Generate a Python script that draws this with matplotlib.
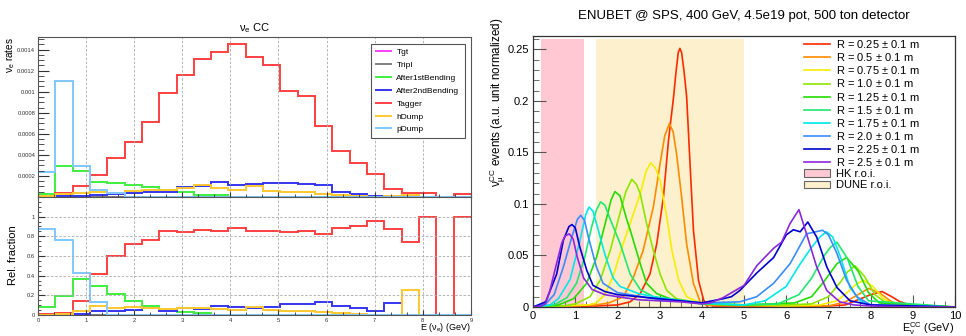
import numpy as np
import matplotlib
matplotlib.use('Agg')
import matplotlib.pyplot as plt
from matplotlib.patches import Patch
from matplotlib.ticker import MultipleLocator, AutoMinorLocator

plt.rcParams['font.family'] = ['Liberation Sans', 'DejaVu Sans']
plt.rcParams['mathtext.fontset'] = 'custom'
plt.rcParams['mathtext.rm'] = 'Liberation Sans'
plt.rcParams['mathtext.it'] = 'Liberation Sans'
plt.rcParams['mathtext.default'] = 'regular'

# ---- left panel: nu_e CC histograms, 25 bins on 0-9 GeV ----
n_bins = 25
e_range = (0, 9)
sources = ['Tgt', 'Tripl', 'After1stBending', 'After2ndBending', 'Tagger', 'hDump', 'pDump']
src_colors = ['#ff40ff', '#808080', '#40ee40', '#3535f0', '#ff4040', '#ffc830', '#80c8ff']

rate_tgt = [0.0] * 25
rate_tripl = [0.0] * 25
rate_after1 = [0.00003, 0.00029, 0.00025, 0.000146, 0.000133, 0.00011, 0.000092, 0.00007, 0.000045,
               0.000015, 0.000015, 0.0, 0.0, 0.0, 0.0, 0.0, 0.0, 0.0, 0.0, 0.0, 0.0, 0.0, 0.0, 0.0, 0.0]
rate_after2 = [0.0, 0.00001, 0.00001, 0.00002, 0.00003, 0.00004, 0.00005, 0.00005, 0.000092, 0.0001,
               0.000146, 0.000117, 0.00012, 0.000133, 0.000133, 0.000124, 0.000114, 0.00005, 0.00003,
               0.000012, 0.00001, 0.00001, 0.0, 0.0, 0.0]
rate_tagger = [0.0, 0.000034, 0.0001, 0.00021, 0.00037, 0.00052, 0.00071, 0.00099, 0.00116, 0.00131,
               0.00138, 0.00145, 0.00133, 0.00125, 0.00101, 0.00096, 0.00067, 0.00044, 0.00032, 0.00022,
               0.00008, 0.00004, 0.00004, 0.0, 0.00003]
rate_hdump = [0.00001, 0.00003, 0.00004, 0.000045, 0.00004, 0.00006, 0.00007, 0.00007, 0.00009, 0.00011,
              0.00009, 0.00007, 0.0001, 0.00006, 0.00005, 0.000045, 0.00003, 0.00002, 0.000006, 0.000003,
              0.00001, 0.00002, 0.0, 0.0, 0.0]
rate_pdump = [0.00024, 0.0011, 0.00029, 0.00007, 0.00004, 0.0, 0.0, 0.0, 0.0, 0.0, 0.0, 0.0, 0.0, 0.0,
              0.0, 0.0, 0.0, 0.0, 0.0, 0.0, 0.0, 0.0, 0.0, 0.0, 0.0]

frac_tgt = [0.0] * 25
frac_tripl = [0.0] * 25
frac_after1 = [0.085, 0.19, 0.37, 0.29, 0.21, 0.14, 0.09, 0.06, 0.035, 0.02, 0.0, 0.0, 0.0, 0.0, 0.0,
               0.0, 0.0, 0.0, 0.0, 0.0, 0.0, 0.0, 0.0, 0.0, 0.0]
frac_after2 = [0.0, 0.005, 0.01, 0.04, 0.04, 0.05, 0.07, 0.04, 0.07, 0.06, 0.09, 0.08, 0.07, 0.085,
               0.11, 0.11, 0.135, 0.09, 0.075, 0.04, 0.12, 0.0, 0.0, 0.0, 0.0]
frac_tagger = [0.01, 0.02, 0.14, 0.42, 0.60, 0.72, 0.76, 0.85, 0.84, 0.86, 0.855, 0.88, 0.85, 0.85,
               0.84, 0.85, 0.82, 0.88, 0.90, 0.96, 0.87, 0.74, 1.0, 0.0, 1.0]
frac_hdump = [0.0, 0.01, 0.04, 0.09, 0.07, 0.08, 0.07, 0.06, 0.07, 0.07, 0.06, 0.05, 0.08, 0.05, 0.04,
              0.04, 0.03, 0.02, 0.01, 0.0, 0.0, 0.25, 0.0, 0.0, 0.0]
frac_pdump = [0.87, 0.76, 0.43, 0.135, 0.0, 0.0, 0.0, 0.0, 0.0, 0.0, 0.0, 0.0, 0.0, 0.0, 0.0, 0.0, 0.0,
              0.0, 0.0, 0.0, 0.0, 0.0, 0.0, 0.0, 0.0]

rates = [rate_tgt, rate_tripl, rate_after1, rate_after2, rate_tagger, rate_hdump, rate_pdump]
fracs = [frac_tgt, frac_tripl, frac_after1, frac_after2, frac_tagger, frac_hdump, frac_pdump]

# ---- right panel: nu_mu CC spectra vs radius ----
radius_labels = ['R = 0.25 $\\pm$ 0.1 m', 'R = 0.5 $\\pm$ 0.1 m', 'R = 0.75 $\\pm$ 0.1 m',
                 'R = 1.0 $\\pm$ 0.1 m', 'R = 1.25 $\\pm$ 0.1 m', 'R = 1.5 $\\pm$ 0.1 m',
                 'R = 1.75 $\\pm$ 0.1 m', 'R = 2.0 $\\pm$ 0.1 m', 'R = 2.25 $\\pm$ 0.1 m',
                 'R = 2.5 $\\pm$ 0.1 m']
radius_colors = ['#ff2a00', '#ff8c00', '#f5ef00', '#8ce600', '#22dd00', '#20e870', '#00e8e8',
                 '#3a8cff', '#0000d0', '#8a28dd']

e_r025 = [0, 1.5, 2.0, 2.3, 2.54, 2.77, 2.93, 3.09, 3.21, 3.33, 3.38, 3.44, 3.48, 3.52, 3.58, 3.64,
          3.72, 3.8, 3.92, 4.04, 4.15, 4.3, 5.0, 6.0, 7.0, 7.4, 7.7, 8.0, 8.27, 8.5, 8.7, 9.0, 10]
v_r025 = [0, 0.001, 0.002, 0.005, 0.013, 0.032, 0.061, 0.107, 0.162, 0.204, 0.225, 0.247, 0.251, 0.247,
          0.228, 0.204, 0.139, 0.075, 0.026, 0.007, -0.001, 0.0, 0.0, 0.0005, 0.001, 0.002, 0.007, 0.012,
          0.015, 0.010, 0.005, 0.001, 0]
e_r050 = [0, 1.5, 1.8, 2.14, 2.38, 2.61, 2.85, 3.01, 3.12, 3.23, 3.32, 3.4, 3.52, 3.64, 3.8, 3.96, 4.1,
          5.0, 6.0, 7.0, 7.4, 7.7, 7.95, 8.2, 8.5, 8.8, 10]
v_r050 = [0, 0.002, 0.004, 0.010, 0.029, 0.055, 0.097, 0.139, 0.166, 0.178, 0.170, 0.149, 0.107, 0.061,
          0.023, 0.005, 0.002, 0.001, 0.001, 0.001, 0.005, 0.012, 0.018, 0.014, 0.005, 0.001, 0]
e_r075 = [0, 1.3, 1.5, 1.7, 1.9, 2.14, 2.3, 2.54, 2.68, 2.79, 2.9, 3.01, 3.17, 3.29, 3.45, 3.64, 3.96,
          5.0, 6.0, 6.8, 7.2, 7.5, 7.65, 7.83, 8.05, 8.3, 8.6, 10]
v_r075 = [0, 0.002, 0.004, 0.012, 0.030, 0.062, 0.081, 0.110, 0.132, 0.140, 0.135, 0.123, 0.087, 0.055,
          0.026, 0.010, 0.004, 0.002, 0.001, 0.002, 0.006, 0.016, 0.022, 0.026, 0.020, 0.008, 0.002, 0]
e_r100 = [0, 0.7, 1.0, 1.35, 1.59, 1.83, 2.06, 2.2, 2.34, 2.45, 2.54, 2.69, 2.85, 3.01, 3.17, 3.4, 3.8,
          4.1, 5.0, 6.0, 6.6, 7.0, 7.3, 7.45, 7.63, 7.85, 8.1, 8.4, 10]
v_r100 = [0, 0.001, 0.003, 0.010, 0.026, 0.055, 0.091, 0.112, 0.124, 0.119, 0.110, 0.081, 0.055, 0.032,
          0.016, 0.008, 0.005, 0.003, 0.002, 0.002, 0.003, 0.010, 0.025, 0.034, 0.040, 0.030, 0.012,
          0.003, 0]
e_r125 = [0, 0.6, 0.96, 1.27, 1.51, 1.71, 1.85, 1.94, 2.06, 2.22, 2.3, 2.54, 2.69, 2.93, 3.25, 4.0, 5.0,
          6.2, 6.6, 6.9, 7.2, 7.43, 7.7, 7.95, 8.2, 10]
v_r125 = [0, 0.002, 0.008, 0.023, 0.049, 0.081, 0.104, 0.112, 0.108, 0.085, 0.075, 0.042, 0.023, 0.013,
          0.008, 0.003, 0.002, 0.004, 0.010, 0.025, 0.042, 0.048, 0.035, 0.014, 0.004, 0]
e_r150 = [0, 0.5, 0.8, 1.03, 1.23, 1.39, 1.5, 1.6, 1.7, 1.83, 2.06, 2.3, 2.54, 2.85, 3.5, 4.0, 5.0, 5.8,
          6.3, 6.6, 6.9, 7.05, 7.2, 7.45, 7.7, 7.95, 10]
v_r150 = [0, 0.002, 0.009, 0.023, 0.049, 0.078, 0.094, 0.102, 0.099, 0.085, 0.062, 0.032, 0.017, 0.010,
          0.006, 0.003, 0.002, 0.003, 0.012, 0.028, 0.050, 0.058, 0.063, 0.047, 0.020, 0.006, 0]
e_r175 = [0, 0.4, 0.6, 0.88, 1.12, 1.25, 1.33, 1.42, 1.51, 1.71, 1.9, 2.06, 2.5, 3.0, 4.0, 5.0, 5.5, 6.0,
          6.3, 6.6, 6.8, 6.95, 7.1, 7.28, 7.51, 7.75, 8.0, 10]
v_r175 = [0, 0.002, 0.008, 0.027, 0.066, 0.090, 0.097, 0.093, 0.080, 0.050, 0.028, 0.020, 0.013, 0.009,
          0.004, 0.002, 0.006, 0.020, 0.040, 0.058, 0.068, 0.073, 0.068, 0.049, 0.019, 0.006, 0.002, 0]
e_r200 = [0, 0.3, 0.5, 0.72, 0.92, 1.05, 1.13, 1.22, 1.31, 1.5, 1.66, 2.0, 3.0, 4.0, 4.9, 5.3, 5.7, 6.09,
          6.48, 6.7, 6.86, 7.0, 7.2, 7.43, 7.67, 8.0, 10]
v_r200 = [0, 0.003, 0.012, 0.039, 0.068, 0.085, 0.089, 0.084, 0.068, 0.039, 0.023, 0.014, 0.007, 0.004,
          0.005, 0.010, 0.023, 0.042, 0.071, 0.073, 0.0745, 0.070, 0.052, 0.026, 0.010, 0.002, 0]
e_r225 = [0, 0.3, 0.56, 0.72, 0.85, 0.92, 1.0, 1.11, 1.27, 1.42, 1.7, 2.0, 3.0, 4.0, 4.5, 4.7, 4.9, 5.3,
          5.7, 6.0, 6.17, 6.33, 6.51, 6.72, 6.96, 7.2, 7.51, 8.0, 10]
v_r225 = [0, 0.005, 0.032, 0.065, 0.078, 0.080, 0.077, 0.058, 0.036, 0.021, 0.015, 0.012, 0.008, 0.004,
          0.008, 0.010, 0.016, 0.033, 0.048, 0.070, 0.075, 0.073, 0.0825, 0.068, 0.039, 0.019, 0.006,
          0.002, 0]
e_r250 = [0, 0.2, 0.29, 0.4, 0.52, 0.68, 0.76, 0.86, 0.95, 1.05, 1.2, 1.4, 1.7, 2.0, 2.5, 3.0, 3.5, 4.0,
          4.2, 4.5, 5.0, 5.3, 5.7, 5.89, 6.09, 6.3, 6.48, 6.6, 6.72, 6.96, 7.27, 7.6, 8.0, 9.0, 10]
v_r250 = [0, 0.001, 0.003, 0.016, 0.036, 0.062, 0.069, 0.071, 0.066, 0.048, 0.028, 0.017, 0.012, 0.010,
          0.007, 0.006, 0.005, 0.003, 0.004, 0.009, 0.021, 0.040, 0.057, 0.063, 0.081, 0.0945, 0.071,
          0.055, 0.039, 0.016, 0.005, 0.002, 0.001, 0, 0]

spectra_e = [e_r025, e_r050, e_r075, e_r100, e_r125, e_r150, e_r175, e_r200, e_r225, e_r250]
spectra_v = [v_r025, v_r050, v_r075, v_r100, v_r125, v_r150, v_r175, v_r200, v_r225, v_r250]

hk_roi = (0.2, 1.2)
dune_roi = (1.5, 5.0)
roi_height = 0.26

# ---------------- figure ----------------
fig = plt.figure(figsize=(9.66, 3.36), dpi=100)
ax_top = fig.add_axes([0.0393, 0.4137, 0.4482, 0.4762])
ax_bot = fig.add_axes([0.0393, 0.0625, 0.4482, 0.3512], sharex=ax_top)
ax_r = fig.add_axes([0.5518, 0.0863, 0.4369, 0.8065])

edges = np.linspace(e_range[0], e_range[1], n_bins + 1)

for name, col, r in zip(sources, src_colors, rates):
    ax_top.stairs(r, edges, color=col, lw=1.4, label=name, baseline=None)
for col, f in zip(src_colors, fracs):
    ax_bot.stairs(f, edges, color=col, lw=1.4, baseline=None)

ax_top.set_xlim(0, 9)
ax_top.set_ylim(0, 0.00152)
ax_bot.set_ylim(0, 1.2)

for ax in (ax_top, ax_bot):
    ax.grid(axis='x', which='major', ls=(0, (3, 2)), color='#aaaaaa', lw=0.6)
    ax.xaxis.set_major_locator(MultipleLocator(1))
    ax.xaxis.set_minor_locator(AutoMinorLocator(3))
    ax.tick_params(which='both', direction='in', labelsize=4.2, pad=2, colors='#333333')
    ax.tick_params(axis='x', which='major', length=3.5)
    ax.tick_params(axis='x', which='minor', length=2)
    for s in ax.spines.values():
        s.set_color('#555555')
        s.set_linewidth(0.8)
ax_bot.grid(axis='y', which='major', ls=(0, (3, 2)), color='#aaaaaa', lw=0.6)

ax_top.tick_params(axis='y', which='major', length=8)
ax_top.tick_params(axis='y', which='minor', length=4)
ax_top.tick_params(axis='x', labelbottom=False)
ax_top.set_yticks(np.arange(0.0002, 0.00141, 0.0002))
ax_top.set_yticklabels(['0.0002', '0.0004', '0.0006', '0.0008', '0.001', '0.0012', '0.0014'])
ax_top.yaxis.set_minor_locator(MultipleLocator(0.00005))

ax_bot.yaxis.set_minor_locator(MultipleLocator(0.05))
ax_bot.tick_params(axis='y', which='major', length=5)
ax_bot.tick_params(axis='y', which='minor', length=2.5)
ax_bot.set_yticks([0, 0.2, 0.4, 0.6, 0.8, 1.0])
ax_bot.set_yticklabels(['0', '0.2', '0.4', '0.6', '0.8', '1'])

ax_top.set_title('$\\nu_e$ CC', fontsize=8, pad=4)
fig.text(0.003, 0.89, '$\\nu_e$ rates', rotation=90, fontsize=7.2, va='top', ha='left')
fig.text(0.008, 0.33, 'Rel. fraction', rotation=90, fontsize=8, va='top', ha='left')
fig.text(0.487, 0.005, 'E ($\\nu_e$) (GeV)', fontsize=6.5, ha='right', va='bottom')

leg = ax_top.legend(loc='upper right', bbox_to_anchor=(0.995, 0.985), fontsize=6, frameon=True,
                    fancybox=False, edgecolor='#555555', framealpha=1, handlelength=1.7,
                    labelspacing=0.6, borderpad=0.6, handletextpad=0.7)
leg.get_frame().set_linewidth(0.8)

# ---- right panel ----
ax_r.axvspan(hk_roi[0], hk_roi[1], ymin=0, ymax=roi_height / 0.263, color='#ffc8d2', lw=0, zorder=0)
ax_r.axvspan(dune_roi[0], dune_roi[1], ymin=0, ymax=roi_height / 0.263, color='#fdf0cc', lw=0, zorder=0)

handles = []
for e, v, col, lab in zip(spectra_e, spectra_v, radius_colors, radius_labels):
    ln, = ax_r.plot(e, v, color=col, lw=1.2, label=lab)
    handles.append(ln)
handles.append(Patch(facecolor='#ffc8d2', edgecolor='#666666', lw=0.8, label='HK r.o.i.'))
handles.append(Patch(facecolor='#fdf0cc', edgecolor='#666666', lw=0.8, label='DUNE r.o.i.'))

ax_r.set_xlim(0, 10)
ax_r.set_ylim(0, 0.263)
ax_r.xaxis.set_major_locator(MultipleLocator(1))
ax_r.xaxis.set_minor_locator(AutoMinorLocator(4))
ax_r.yaxis.set_minor_locator(MultipleLocator(0.01))
ax_r.set_yticks([0, 0.05, 0.1, 0.15, 0.2, 0.25])
ax_r.set_yticklabels(['0', '0.05', '0.1', '0.15', '0.2', '0.25'])
ax_r.tick_params(which='both', direction='in', labelsize=8, pad=3)
ax_r.tick_params(which='major', length=9, color='#555555')
ax_r.tick_params(which='minor', length=4.5, color='#555555')
for s in ax_r.spines.values():
    s.set_linewidth(0.9)
    s.set_color('#333333')

ax_r.set_title('ENUBET @ SPS, 400 GeV, 4.5e19 pot, 500 ton detector', fontsize=9.5, pad=12)
fig.text(0.5045, 0.948, '$\\nu_\\mu^{CC}$ events (a.u. unit normalized)', rotation=90, fontsize=8.4,
         va='top', ha='left')
fig.text(0.988, -0.004, '$E_\\nu^{CC}$ (GeV)', fontsize=7.8, ha='right', va='bottom')

ax_r.legend(handles=handles, loc='upper left', bbox_to_anchor=(0.62, 1.025), frameon=False, fontsize=8,
            handlelength=2.4, labelspacing=0.1, borderpad=0.3, handletextpad=0.5)

fig.savefig('out.png', dpi=100)
